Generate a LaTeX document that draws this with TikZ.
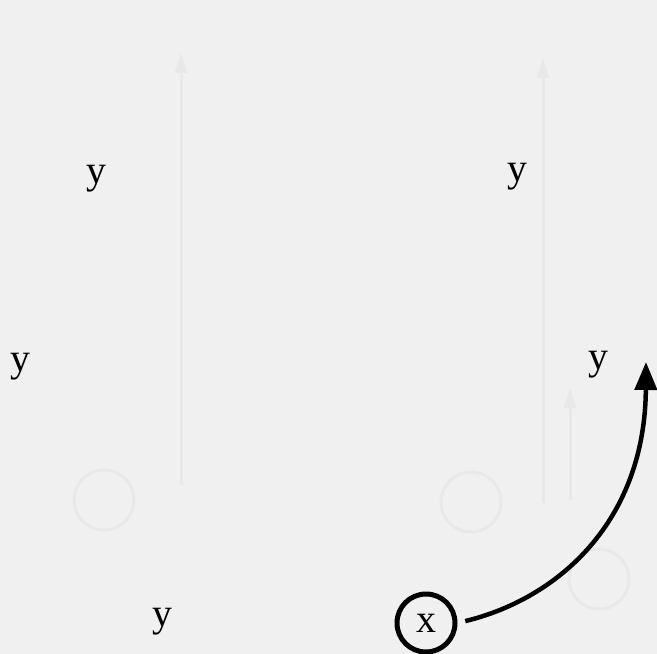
\documentclass[tikz,border=0pt]{standalone}
\usepackage{fontspec}
\setmainfont{Liberation Serif}
\usetikzlibrary{arrows.meta}
\tikzset{
  lab/.style={inner sep=0pt, font=\fontsize{40}{44}\selectfont},
  xnode/.style={circle, draw=black, line width=5bp, minimum size=58bp, inner sep=0pt, font=\fontsize{40}{44}\selectfont},
  conn/.style={line width=4.5bp, -{Triangle[width=22bp,length=28bp]}},
  ghost/.style={draw=black!9, line width=3bp},
  ghostarrow/.style={ghost, -{Triangle[width=12bp,length=20bp]}}
}
\begin{document}
\begin{tikzpicture}[x=1bp,y=-1bp]
  \fill[black!6] (0,0) rectangle (657,654);
  \useasboundingbox (0,0) rectangle (657,654);
  % faint show-through marks
  \draw[ghostarrow] (181,485) -- (181,53);
  \draw[ghostarrow] (543,503) -- (543,58);
  \draw[ghostarrow] (570,500) -- (570,388);
  \draw[ghost] (104,500) circle (30);
  \draw[ghost] (471,502) circle (30);
  \draw[ghost] (599,579) circle (30);
  % labels
  \node[lab] (y1) at (96,179) {y};
  \node[lab] (y2) at (517,177) {y};
  \node[lab] (y3) at (20,367) {y};
  \node[lab] (y4) at (598,365) {y};
  \node[lab] (y5) at (162,622) {y};
  \node[xnode] (xc) at (426,623) {x};
  \coordinate (tip) at (646,362);
  \draw[conn, shorten <=8bp] (xc.east) .. controls (560,598) and (645,520) .. (tip);
\end{tikzpicture}
\end{document}
